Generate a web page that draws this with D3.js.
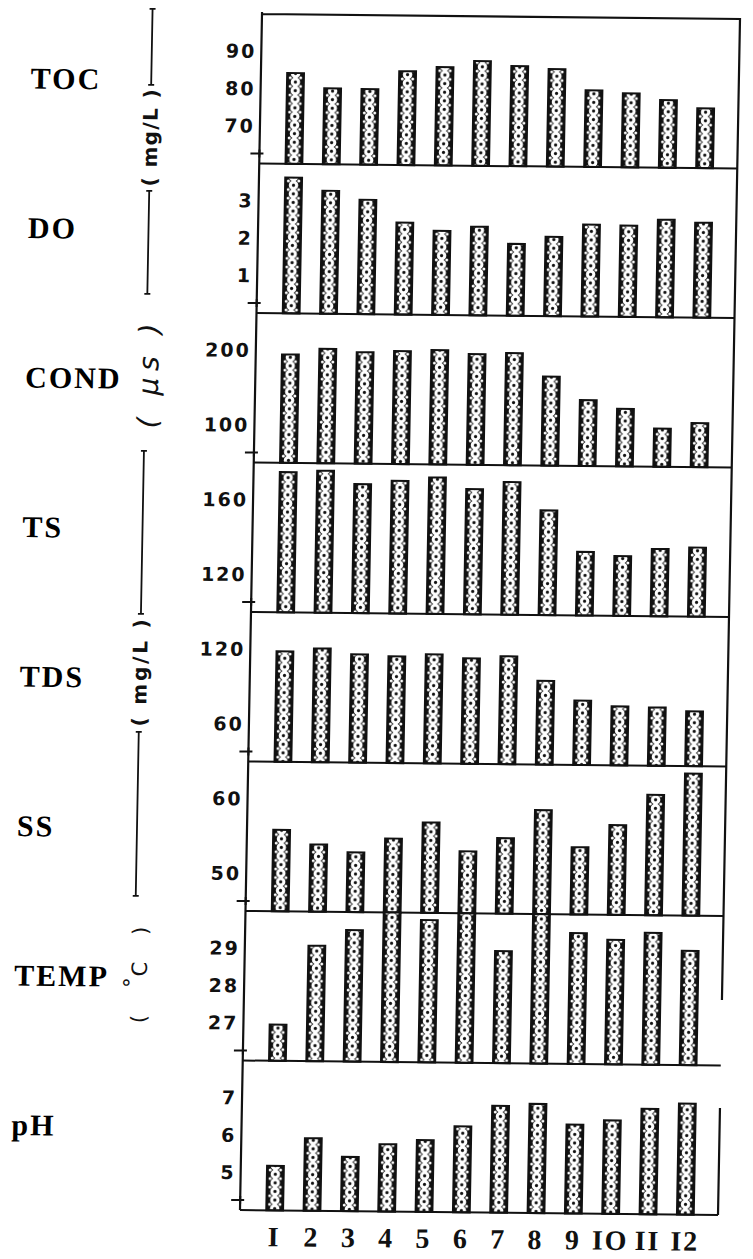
<!DOCTYPE html>
<html>
<head>
<meta charset="utf-8">
<script src="https://cdn.jsdelivr.net/npm/d3@7"></script>
<style>
  body { margin: 0; background: #fff; }
  svg { display: block; }
  .name { font-family: "Liberation Serif", serif; font-weight: bold; font-size: 30px; letter-spacing: 2px; }
  .tick text { font-family: "DejaVu Sans", sans-serif; font-weight: bold; font-size: 19px; letter-spacing: 2px; fill: #111; }
  .month text { font-family: "Liberation Serif", serif; font-weight: bold; font-size: 28px; fill: #111; }
  .unit { font-family: "DejaVu Sans", sans-serif; font-size: 20px; fill: #111; }
</style>
</head>
<body>
<div id="chart"></div>
<script>
// months on the x axis (the print uses I for 1)
const months = [1, 2, 3, 4, 5, 6, 7, 8, 9, 10, 11, 12];
const monthLabels = ["I", "2", "3", "4", "5", "6", "7", "8", "9", "IO", "II", "I2"];

const names = ["TOC", "DO", "COND", "TS", "TDS", "SS", "TEMP", "pH"];

// monthly values
const toc  = [84.3, 80.3, 80.2, 85.1, 86.3, 88.0, 86.8, 86.1, 80.5, 79.8, 78.1, 76.0];
const dO   = [3.63, 3.29, 3.06, 2.46, 2.25, 2.37, 1.92, 2.12, 2.46, 2.44, 2.61, 2.54];
const cond = [195, 203, 199, 201, 203, 198, 200, 169, 138, 127, 101, 109];
const ts   = [175, 176, 169, 171, 173, 167, 171, 156, 134, 132, 136, 137];
const tds  = [118.7, 121.3, 116.9, 115.6, 117.5, 114.7, 116.6, 97.2, 81.7, 77.3, 76.8, 74.0];
const ss   = [55.9, 54.0, 53.0, 54.9, 57.1, 53.3, 55.1, 58.9, 54.0, 57.0, 61.1, 64.0];
const temp = [26.97, 29.09, 29.52, 30.5, 29.81, 30.5, 29.0, 30.5, 29.5, 29.33, 29.53, 29.06];
const ph   = [5.19, 5.94, 5.45, 5.80, 5.92, 6.30, 6.86, 6.92, 6.38, 6.50, 6.82, 6.97];

// axis ranges and tick labels of each panel
const domains = [[60, 100], [0, 4], [50, 250], [100, 180], [30, 150], [45, 65], [26, 30], [4, 8]];
const ticks = [[70, 80, 90], [1, 2, 3], [100, 200], [120, 160], [60, 120], [50, 60], [27, 28, 29], [5, 6, 7]];

const series = [toc, dO, cond, ts, tds, ss, temp, ph];
const panels = names.map((n, i) => ({ name: n, values: series[i], domain: domains[i], ticks: ticks[i] }));

// layout
const W = 753, H = 1259;
const fL = 262, fR = 740, fT = 14, fB = 1210;
const panelH = (fB - fT) / panels.length;

const svg = d3.select("#chart").append("svg")
  .attr("width", W).attr("height", H);

svg.append("rect").attr("width", W).attr("height", H).attr("fill", "#fff");

// the scanned page is a little askew
const g = svg.append("g")
  .attr("transform", `translate(${fL},${fT}) matrix(1,0.0105,-0.0184,1,0,0) translate(${-fL},${-fT})`);

const x = d3.scaleBand()
  .domain(months)
  .range([278, 726])
  .paddingInner(0.55)
  .paddingOuter(0.275);

// dotted chain fill of the bars
const bw = x.bandwidth();
const ph2 = 8.6;
const pat = g.append("defs").append("pattern")
  .attr("id", "dots")
  .attr("patternUnits", "userSpaceOnUse")
  .attr("x", x(months[0]))
  .attr("y", 0)
  .attr("width", x.step())
  .attr("height", ph2);
pat.append("rect").attr("width", x.step()).attr("height", ph2).attr("fill", "#111");
pat.append("circle").attr("cx", bw / 2).attr("cy", ph2 / 2).attr("r", 4.7).attr("fill", "#fff");
pat.append("circle").attr("cx", bw / 2).attr("cy", ph2 / 2).attr("r", 1.6).attr("fill", "#111");
[-1, 1].forEach(s => {
  [0, ph2].forEach(cy => {
    pat.append("circle").attr("cx", bw / 2 + s * 5.2).attr("cy", cy).attr("r", 1.5).attr("fill", "#fff");
  });
});

panels.forEach((p, i) => {
  const y0 = fT + i * panelH;
  const y1 = y0 + panelH;
  const y = d3.scaleLinear().domain(p.domain).range([y1, y0]).clamp(true);

  g.append("g").selectAll("rect")
    .data(p.values.map((v, j) => ({ m: months[j], v: v })))
    .join("rect")
      .attr("x", d => x(d.m))
      .attr("y", d => y(d.v))
      .attr("width", bw)
      .attr("height", d => y1 - y(d.v))
      .attr("fill", "url(#dots)")
      .attr("stroke", "#111")
      .attr("stroke-width", 2);

  // separator / baseline
  g.append("line")
    .attr("x1", fL).attr("x2", fR)
    .attr("y1", y1).attr("y2", y1)
    .attr("stroke", "#111").attr("stroke-width", 2);

  // tick labels
  const ax = g.append("g")
    .attr("class", "tick")
    .attr("transform", `translate(${fL},0)`)
    .call(d3.axisLeft(y).tickValues(p.ticks).tickFormat(d3.format("d")).tickSize(0).tickPadding(5));
  ax.attr("font-size", null).attr("font-family", null);
  ax.select(".domain").remove();

  // the little cross at the foot of each axis
  g.append("path")
    .attr("d", `M${fL - 9},${y1 - 10}H${fL + 4}M${fL},${y1 - 14}V${y1 - 6}`)
    .attr("stroke", "#111").attr("stroke-width", 2).attr("fill", "none");

  // parameter name
  g.append("text")
    .attr("class", "name")
    .attr("x", 32)
    .attr("y", y0 + 77)
    .text(p.name);
});

// frame
g.append("path")
  .attr("d", `M${fL},${fT - 2}V${fB}M${fL},${fT}H${fR}V995M${fR},1103V${fB}`)
  .attr("stroke", "#111").attr("stroke-width", 2.2).attr("fill", "none");

// month axis
const mx = g.append("g")
  .attr("class", "month")
  .attr("transform", `translate(0,${fB})`)
  .call(d3.axisBottom(x).tickFormat((d, i) => monthLabels[i]).tickSize(0).tickPadding(16));
mx.attr("font-size", null).attr("font-family", null);
mx.select(".domain").remove();

// unit brackets on the left
function unitLine(xp, ya, yb) {
  g.append("path")
    .attr("d", `M${xp},${ya}V${yb}M${xp - 3},${ya}H${xp + 3}M${xp - 3},${yb}H${xp + 3}`)
    .attr("stroke", "#111").attr("stroke-width", 1.8).attr("fill", "none");
}
function unitText(xp, yc, len, str) {
  return g.append("text")
    .attr("class", "unit")
    .attr("transform", `translate(${xp},${yc}) rotate(-90)`)
    .attr("text-anchor", "middle")
    .attr("dy", "0.35em")
    .attr("textLength", len)
    .attr("lengthAdjust", "spacing")
    .text(str);
}

// mg/L for TOC and DO
unitLine(152.5, 10, 86);
unitLine(152.5, 192, 295);
unitText(152.5, 139, 97, "( mg/L )").attr("font-weight", "bold");

// conductivity
unitText(155, 377, 105, "( µs )")
  .attr("font-family", "Liberation Serif, serif")
  .attr("font-style", "italic")
  .style("font-size", "28px");

// mg/L for TS, TDS, SS
unitLine(152, 452, 615);
unitLine(152, 733, 897);
unitText(152, 674, 107, "( mg/L )").attr("font-weight", "bold");

// temperature
const tt = g.append("text")
  .attr("class", "unit")
  .attr("transform", `translate(157,976) rotate(-90)`)
  .attr("text-anchor", "middle")
  .attr("dy", "0.35em")
  .style("font-size", "21px");
tt.append("tspan").text("(");
tt.append("tspan").attr("dx", 27).attr("dy", -8).text("°");
tt.append("tspan").attr("dx", 1).attr("dy", 8).text("C");
tt.append("tspan").attr("dx", 27).text(")");
</script>
</body>
</html>
